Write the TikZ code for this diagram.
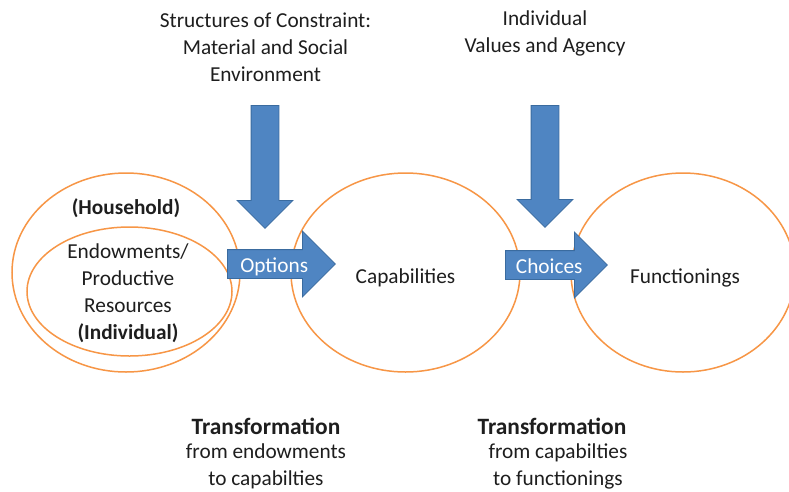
\documentclass[tikz,border=0pt]{standalone}
\usepackage{fontspec}
\setmainfont{Carlito}
\usetikzlibrary{shapes.geometric, shapes.arrows}
\definecolor{RingOrange}{HTML}{F79646}
\definecolor{ArrowBlue}{HTML}{4F85C2}
\definecolor{ArrowEdge}{HTML}{3A6B9F}
\definecolor{InkGray}{HTML}{1E1E1E}
\tikzset{
  ring/.style={draw=RingOrange, line width=1.5pt, ellipse, inner sep=0pt},
  caption/.style={text=InkGray, align=center, inner sep=0pt, font=\fontsize{21.3}{27}\selectfont},
  heading/.style={text=InkGray, align=center, inner sep=0pt, font=\bfseries\fontsize{23.4}{27}\selectfont},
  blockarrow/.style={single arrow, single arrow head extend=18.5pt, single arrow head indent=0pt, fill=ArrowBlue, draw=ArrowEdge, line width=0.8pt, text=white, font=\fontsize{21.3}{27}\selectfont, text height=16pt, text depth=-1pt, inner ysep=6pt, inner xsep=3pt, anchor=tail},
  downarrow/.style={single arrow, single arrow head extend=14pt, single arrow head indent=0pt, fill=ArrowBlue, draw=ArrowEdge, line width=0.8pt, text height=0pt, text depth=0pt, inner ysep=13.5pt, inner xsep=0pt, rotate=-90, anchor=tail}
}

\begin{document}
\begin{tikzpicture}[x=1pt, y=-1pt]
\useasboundingbox (0,0) rectangle (789,491);
\clip (0,0) rectangle (789,491);
\fill[white] (0,0) rectangle (789,491);
% rings
\node[ring, minimum width=228pt, minimum height=199pt] (household) at (126,272.5) {};
\node[ring, minimum width=205pt, minimum height=129pt] (endow) at (129.5,291.5) {};
\node[ring, minimum width=229pt, minimum height=199pt] (capab) at (405.5,272.5) {};
\node[ring, minimum width=224pt, minimum height=199pt] (functs) at (683,272.5) {};
\node[heading, font=\bfseries\fontsize{21.3}{27}\selectfont] (hhname) at (126,208) {(Household)};
\node[caption] (endowtext) at (128,293) {Endowments/\\Productive\\Resources\\\textbf{(Individual)}};
\node[caption] (capabtext) at (405.5,278) {Capabilities};
\node[caption] (functstext) at (685,278) {Functionings};
% constraints from above
\node[caption] (structures) at (265.5,47) {Structures of Constraint:\\Material and Social\\Environment};
\node[caption] (values) at (545,33) {Individual\\Values and Agency};
\node[downarrow, minimum height=123pt] (pushleft) at (265,105) {};
\node[downarrow, minimum height=122pt] (pushright) at (545,105) {};
% transformations
\node[blockarrow, minimum height=108pt] (options) at (227,264) {Options};
\node[blockarrow, minimum height=102pt] (choices) at (505,265) {Choices};
\node[heading] (transleft) at (266,426) {Transformation};
\node[caption] (fromleft) at (266,466.5) {from endowments\\to capabilties};
\node[heading] (transright) at (552,426) {Transformation};
\node[caption] (fromright) at (558,466.5) {from capabilties\\to functionings};
\end{tikzpicture}
\end{document}
